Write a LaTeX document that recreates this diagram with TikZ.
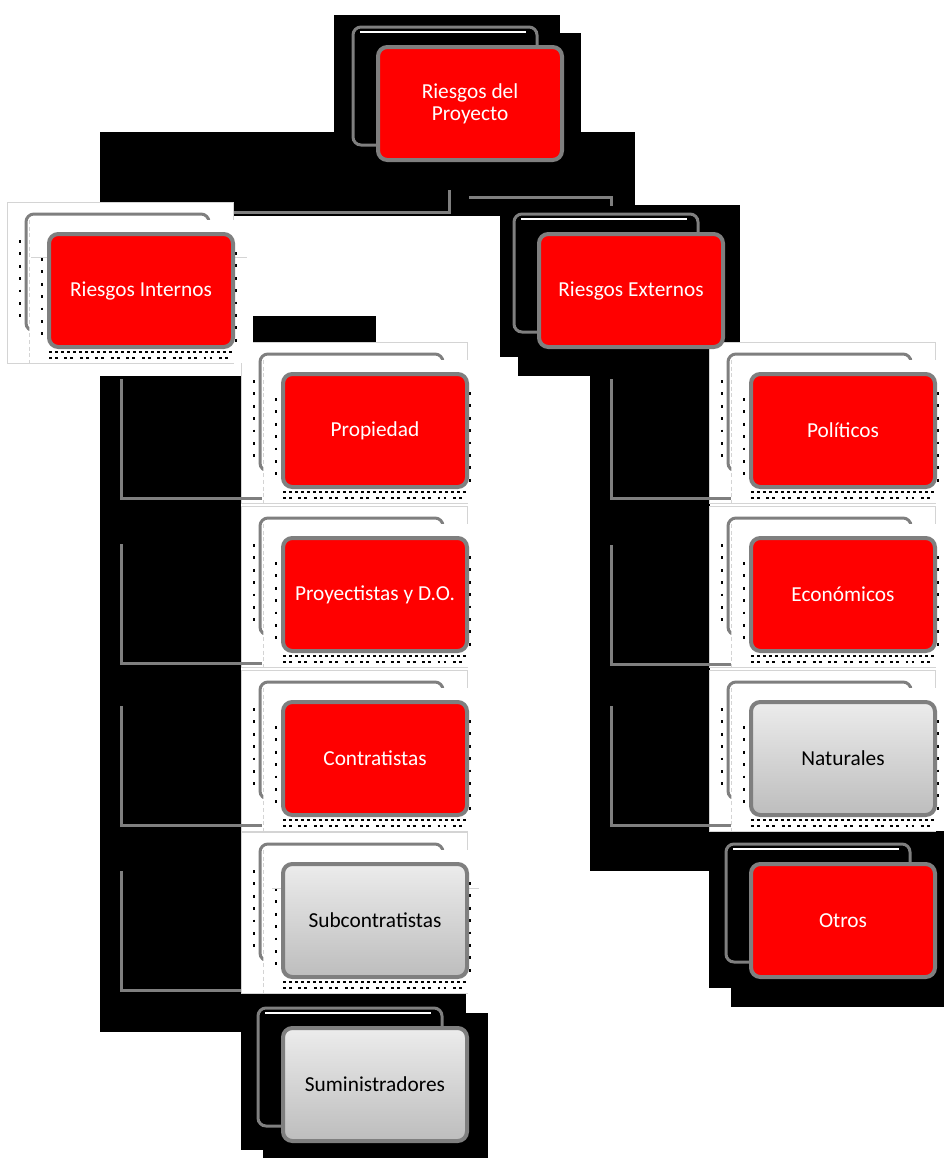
\documentclass[tikz,border=0pt]{standalone}
\usepackage{fontspec}
\setmainfont{Carlito}
\definecolor{boxred}{HTML}{FF0000}
\definecolor{boxgray}{HTML}{7F7F7F}
\definecolor{shadetop}{HTML}{ECECEC}
\definecolor{shadebot}{HTML}{BDBDBD}
\definecolor{faintgray}{HTML}{D4D4D4}
\begin{document}
\begin{tikzpicture}[x=0.75pt,y=-0.75pt,
  box/.style={draw=boxgray, line width=3pt, rounded corners=7pt,
    minimum width=138pt, minimum height=84.75pt, inner sep=0pt,
    align=center, font=\fontsize{16}{16.5}\selectfont},
  redbox/.style={box, fill=boxred, text=white},
  graybox/.style={box, top color=shadetop, bottom color=shadebot, text=black},
  backbox/.style={draw=boxgray, line width=2.25pt, rounded corners=6pt},
  panel/.style={fill=white, draw=faintgray, line width=0.6pt},
  faint/.style={draw=faintgray, line width=0.6pt},
  conn/.style={draw=boxgray, line width=2.25pt},
  dotcol/.style={line width=2.1pt, dash pattern=on 2.1pt off 7.2pt},
  dotrowa/.style={line width=2.1pt, dash pattern=on 2.1pt off 2.4pt},
  dotrowb/.style={line width=2.1pt, dash pattern=on 2.1pt off 2.4pt on 2.1pt off 5pt}]
  \useasboundingbox (0,0) rectangle (944,1158);
  \fill[white] (0,0) rectangle (944,1158);
  % black areas behind the chart
  \fill (334,15) rectangle (560,132);
  \fill (352,33) rectangle (581,165);
  \fill (100,132) rectangle (635,216);
  \fill (253,316) rectangle (376,342);
  \fill (500,205) rectangle (740,357);
  \fill (518,205) rectangle (710,376);
  \fill (590,357) rectangle (710,871);
  \fill (590,828) rectangle (933,871);
  \fill (709,828) rectangle (944,988);
  \fill (731,828) rectangle (944,1007);
  \fill (100,376) rectangle (241,1032);
  \fill (241,994) rectangle (466,1150);
  \fill (263,1013) rectangle (488,1158);
  % top connectors
  \coordinate (rootl) at (449,190);
  \coordinate (rootr) at (469,197);
  \coordinate (intin) at (119,212);
  \coordinate (extin) at (611,206);
  \draw[conn] (rootl) |- (intin);
  \draw[conn] (rootr) -| (extin);
  % back panels of the light units
  \foreach \x/\y in {47/232, 281/372, 281/536, 281/700, 281/862, 749/372, 749/536, 749/700}
    \filldraw[panel] (\x-40,\y-30) rectangle (\x+186,\y+131);
  % column connectors
  \foreach \n/\t/\e in {prop/379/262, proy/544/262, contr/706/262, subc/871/241} {
    \coordinate (\n-bus) at (121,\t);
    \coordinate (\n-in) at (\e,\t+119);
    \draw[conn] (\n-bus) |- (\n-in);
  }
  \foreach \n/\t in {pol/379, eco/545, nat/706} {
    \coordinate (\n-bus) at (611,\t);
    \coordinate (\n-in) at (731,\t+119);
    \draw[conn] (\n-bus) |- (\n-in);
  }
  % light units: shadow box, panel and dots
  \foreach \x/\y in {47/232, 281/372, 281/536, 281/700, 281/862, 749/372, 749/536, 749/700} {
    \draw[backbox, fill=white] (\x-21,\y-18) rectangle (\x+162,\y+99);
    \fill[white] (\x-18,\y-12) rectangle (\x+206,\y+131);
    \draw[faint, densely dashed] (\x-18,\y-12) -- (\x-18,\y+131);
    \draw[dotcol] (\x-27,\y+8) -- (\x-27,\y+88);
    \draw[dotcol] (\x-5,\y+26) -- (\x-5,\y+106);
    \draw[dotcol] (\x+189,\y+20) -- (\x+189,\y+112);
    \draw[dotrowa] (\x+2,\y+120) -- (\x+186,\y+120);
    \draw[dotrowb] (\x+2,\y+126) -- (\x+186,\y+126);
  }
  \draw[faint] (31,257) -- (247,257);
  \draw[faint] (272,888) -- (479,888);
  % dark units: shadow box
  \foreach \x/\y in {376/45, 537/232, 281/1026, 749/862} {
    \draw[backbox, fill=black] (\x-23,\y-18) rectangle (\x+161,\y+100);
    \draw[white, line width=1.2pt] (\x-16,\y-13) -- (\x+150,\y-13);
  }
  % boxes
  \node[redbox] (root) at (470,103.5) {Riesgos del\\Proyecto};
  \node[redbox] (int) at (141,290.5) {Riesgos Internos};
  \node[redbox] (ext) at (631,290.5) {Riesgos Externos};
  \node[redbox] (prop) at (375,430.5) {Propiedad};
  \node[redbox] (proy) at (375,594.5) {Proyectistas y D.O.};
  \node[redbox] (contr) at (375,758.5) {Contratistas};
  \node[graybox] (subc) at (375,920.5) {Subcontratistas};
  \node[graybox] (sumi) at (375,1084.5) {Suministradores};
  \node[redbox] (pol) at (843,430.5) {Políticos};
  \node[redbox] (eco) at (843,594.5) {Económicos};
  \node[graybox] (nat) at (843,758.5) {Naturales};
  \node[redbox] (otros) at (843,920.5) {Otros};
\end{tikzpicture}
\end{document}
